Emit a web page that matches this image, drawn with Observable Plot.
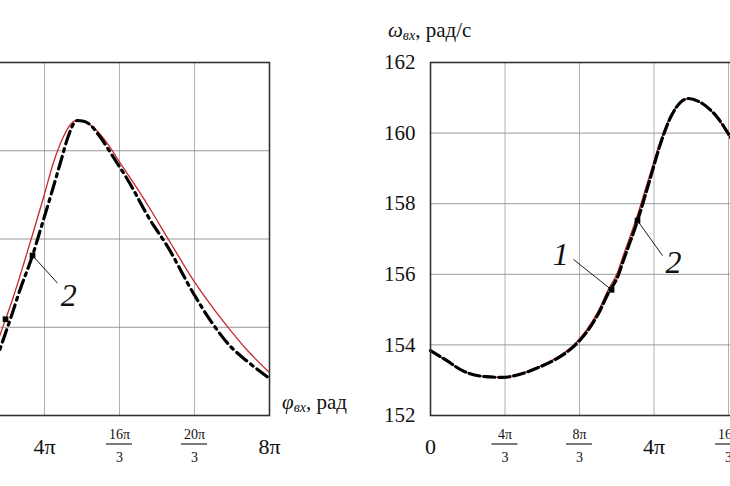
<!DOCTYPE html>
<html><head><meta charset="utf-8">
<script src="https://cdn.jsdelivr.net/npm/d3@7"></script>
<script src="https://cdn.jsdelivr.net/npm/@observablehq/plot@0.6"></script>
<style>
body{margin:0;background:#fff;}
#wrap{position:relative;width:730px;height:486px;overflow:hidden;background:#fff;font-family:"Liberation Serif","Times New Roman",Times,"Noto Serif","DejaVu Serif",FreeSerif,serif;color:#111;}
.chart{position:absolute;top:0;}
.ttl{position:absolute;font-size:21px;white-space:nowrap;line-height:1;}
.ttl i{font-style:italic;}
.ttl sub{font-size:14px;font-style:italic;vertical-align:-3px;}
</style></head><body><div id="wrap"></div>
<script>
// ---------- data (x in units of π) ----------
const xTickValues = [0, 4/3, 8/3, 4, 16/3, 20/3, 8];
const xTickNum = ["0", "4π", "8π", "4π", "16π", "20π", "8π"];
const xTickDen = ["", "3", "3", "", "3", "3", ""];

// left chart (its y-axis labels lie outside the visible area)
const leftYTicks = [0, 1, 2, 3, 4];
const leftBlackPhi = [3.1, 3.218, 3.396, 3.573, 3.787, 3.929, 4.107, 4.284, 4.427, 4.533, 4.587, 4.676, 4.782, 4.996, 5.227, 5.476, 5.884, 6.187, 6.649, 6.951, 7.307, 7.609, 8.0];
const leftBlackVal = [0.555, 0.771, 1.099, 1.439, 1.813, 2.108, 2.482, 2.867, 3.173, 3.320, 3.343, 3.337, 3.309, 3.150, 2.924, 2.674, 2.210, 1.915, 1.382, 1.076, 0.782, 0.612, 0.419];
const leftRedPhi = [3.1, 3.218, 3.449, 3.627, 3.804, 3.982, 4.160, 4.338, 4.462, 4.569, 4.676, 4.871, 5.12, 5.351, 5.529, 5.671, 5.884, 6.204, 6.72, 7.004, 7.253, 7.609, 8.0];
const leftRedVal = [0.714, 0.929, 1.348, 1.711, 2.085, 2.470, 2.867, 3.161, 3.297, 3.343, 3.337, 3.263, 3.082, 2.856, 2.686, 2.550, 2.334, 1.994, 1.462, 1.212, 1.008, 0.737, 0.487];
const leftMarkPhi = [3.307, 3.787];
const leftMarkVal = [1.091, 1.813];
const leftLabelText = ["2"];
const leftLabelPhi = [4.43];
const leftLabelVal = [1.36];
const leftLeaderFrom = [[3.787, 1.813]];
const leftLeaderTo = [[4.231, 1.50]];

// right chart: ω_вх, рад/с
const rightYTicks = [152, 154, 156, 158, 160, 162];
const rightBlackPhi = [0, 0.286, 0.573, 0.984, 1.289, 1.647, 1.933, 2.291, 2.559, 2.774, 3.007, 3.186, 3.347, 3.454, 3.705, 3.937, 4.116, 4.295, 4.474, 4.617, 4.832, 5.136, 5.369, 5.55];
const rightBlackVal = [153.84, 153.56, 153.27, 153.10, 153.08, 153.19, 153.36, 153.64, 153.95, 154.32, 154.89, 155.48, 155.92, 156.40, 157.52, 158.74, 159.70, 160.44, 160.87, 160.98, 160.87, 160.44, 159.88, 159.40];
const rightRedPhi = [0, 0.286, 0.573, 0.984, 1.289, 1.647, 1.933, 2.291, 2.559, 2.774, 3.007, 3.186, 3.347, 3.454, 3.705, 3.937, 4.116, 4.295, 4.474, 4.617, 4.832, 5.136, 5.369, 5.55];
const rightRedVal = [153.84, 153.55, 153.27, 153.10, 153.08, 153.20, 153.38, 153.67, 153.99, 154.38, 154.97, 155.58, 156.05, 156.55, 157.68, 158.88, 159.78, 160.48, 160.88, 160.98, 160.86, 160.42, 159.85, 159.37];
const rightMarkPhi = [3.24, 3.705];
const rightMarkVal = [155.56, 157.52];
const rightLabelText = ["1", "2"];
const rightLabelPhi = [2.33, 4.35];
const rightLabelVal = [156.55, 156.33];
const rightLeaderFrom = [[3.24, 155.56], [3.705, 157.52]];
const rightLeaderTo = [[2.56, 156.42], [4.152, 156.53]];

// ---------- drawing ----------
const FONT = "'Liberation Serif', 'Times New Roman', Times, 'Noto Serif', 'DejaVu Serif', serif";
const MT = 62, MB = 71, H = 486;
const RED = "#c8262b";

function zip(a, b) { return a.map((v, i) => ({x: v, y: b[i]})); }

function makeChart(o) {
  const black = zip(o.bPhi, o.bVal), red = zip(o.rPhi, o.rVal);
  const marks = zip(o.mPhi, o.mVal);
  const labels = o.lText.map((t, i) => ({t, x: o.lPhi[i], y: o.lVal[i]}));
  const leaders = o.from.map((f, i) => ({x1: f[0], y1: f[1], x2: o.to[i][0], y2: o.to[i][1]}));
  const ticks = xTickValues.map((v, i) => ({v, num: xTickNum[i], den: xTickDen[i]})).filter(d => d.v >= o.labelFrom);
  const whole = ticks.filter(d => d.den === "");
  const frac = ticks.filter(d => d.den !== "");
  const plot = Plot.plot({
    width: o.width, height: H,
    marginLeft: o.ml, marginRight: o.mr, marginTop: MT, marginBottom: MB,
    style: {fontFamily: FONT, background: "transparent", overflow: "visible"},
    x: {domain: [0, 8], axis: null},
    y: {domain: o.yDomain, axis: null},
    marks: [
      Plot.gridX(xTickValues, {stroke: "#a8a8a8", strokeOpacity: 1, strokeWidth: 0.9}),
      Plot.gridY(o.yTicks, {stroke: "#8c8c8c", strokeOpacity: 1, strokeWidth: 0.9}),
      Plot.line(red, {x: "x", y: "y", stroke: RED, strokeWidth: 1.3, curve: "monotone-x"}),
      Plot.line(black, {x: "x", y: "y", stroke: "#000", strokeWidth: 3.2, strokeDasharray: o.dash, curve: "monotone-x"}),
      Plot.frame({stroke: "#333", strokeWidth: 1.6}),
      Plot.link(leaders, {x1: "x1", y1: "y1", x2: "x2", y2: "y2", stroke: "#000", strokeWidth: 0.9}),
      Plot.dot(marks, {x: "x", y: "y", symbol: "square", r: 3.2, fill: "#000"}),
      Plot.text(labels, {x: "x", y: "y", text: "t", fontSize: 32, fontStyle: "italic", fontFamily: FONT, fill: "#111"}),
      Plot.text(whole, {x: "v", text: "num", frameAnchor: "bottom", dy: 31, lineAnchor: "middle", fontSize: 22, fontFamily: FONT, fill: "#111"}),
      Plot.text(frac, {x: "v", text: "num", frameAnchor: "bottom", dy: 19, lineAnchor: "middle", fontSize: 14, fontFamily: FONT, fill: "#111"}),
      Plot.text(frac, {x: "v", text: "den", frameAnchor: "bottom", dy: 42, lineAnchor: "middle", fontSize: 14, fontFamily: FONT, fill: "#111"}),
      o.yAxis ? Plot.axisY(o.yTicks, {tickSize: 0, tickPadding: 15, fontSize: 21, fontFamily: FONT, fill: "#111", label: null}) : null
    ]
  });
  // fraction bars under numerators, positioned through the x scale
  const sx = plot.scale("x");
  const by = H - MB + 29;
  const svg = d3.select(plot);
  frac.forEach(d => {
    const cx = sx.apply(d.v);
    svg.append("line").attr("x1", cx - 13).attr("x2", cx + 13).attr("y1", by).attr("y2", by)
      .attr("stroke", "#111").attr("stroke-width", 1.1);
  });
  plot.classList.add("chart");
  plot.style.left = o.left + "px";
  return plot;
}

const wrap = document.getElementById("wrap");
wrap.appendChild(makeChart({
  width: 610, ml: 60, mr: 100, left: -241, yDomain: [0, 4], yTicks: leftYTicks, labelFrom: 4,
  bPhi: leftBlackPhi, bVal: leftBlackVal, rPhi: leftRedPhi, rVal: leftRedVal,
  mPhi: leftMarkPhi, mVal: leftMarkVal, lText: leftLabelText, lPhi: leftLabelPhi, lVal: leftLabelVal,
  from: leftLeaderFrom, to: leftLeaderTo, dash: "13,5,3,5", yAxis: false
}));
wrap.appendChild(makeChart({
  width: 547, ml: 60, mr: 40, left: 370, yDomain: [152, 162], yTicks: rightYTicks, labelFrom: 0,
  bPhi: rightBlackPhi, bVal: rightBlackVal, rPhi: rightRedPhi, rVal: rightRedVal,
  mPhi: rightMarkPhi, mVal: rightMarkVal, lText: rightLabelText, lPhi: rightLabelPhi, lVal: rightLabelVal,
  from: rightLeaderFrom, to: rightLeaderTo, dash: "11,4", yAxis: true
}));

const t1 = document.createElement("div");
t1.className = "ttl";
t1.style.left = "282px"; t1.style.top = "392px";
t1.innerHTML = "<i>φ</i><sub>вх</sub>, рад";
wrap.appendChild(t1);
const t2 = document.createElement("div");
t2.className = "ttl";
t2.style.left = "388px"; t2.style.top = "20px";
t2.innerHTML = "<i>ω</i><sub>вх</sub>, рад/с";
wrap.appendChild(t2);
</script>
</body></html>
